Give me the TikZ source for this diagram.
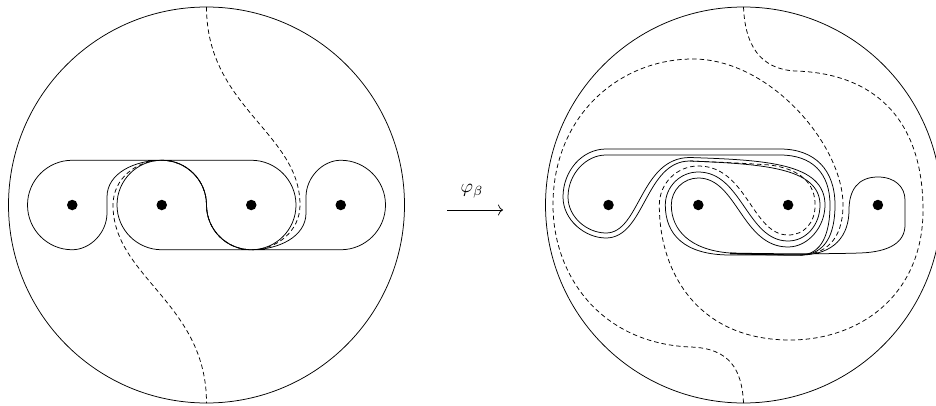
\documentclass[tikz,border=0pt]{standalone}
\usetikzlibrary{arrows.meta}
\begin{document}
\begin{tikzpicture}[x=1pt,y=1pt,line width=0.75pt,
  curve/.style={line width=0.75pt},
  dsh/.style={line width=0.75pt,dash pattern=on 4.5pt off 3pt},
  puncture/.style={circle,fill=black,inner sep=0pt,minimum size=10.5pt}]
\useasboundingbox (0,0) rectangle (936,405);
% ---------------- left disk ----------------
\draw[curve] (206.5,200) circle[radius=198];
\draw[dsh] (206.5,398) .. controls (206.5,298) and (300,272) .. (300,200)
  .. controls (300,174) and (277,155.25) .. (251.25,155.25)
  arc[start angle=270,end angle=180,radius=44.75]
  arc[start angle=0,end angle=90,radius=44.75]
  .. controls (136,244.75) and (113,226) .. (113,200)
  .. controls (113,128) and (206.5,102) .. (206.5,2);
% curve X
\draw[curve] (72.25,244.75) -- (251.25,244.75)
  arc[start angle=90,end angle=-90,radius=44.75]
  arc[start angle=270,end angle=180,radius=44.75]
  arc[start angle=0,end angle=90,radius=44.75]
  .. controls (135,244.75) and (107,232) .. (107,208) -- (107,192)
  .. controls (107,172) and (90,155.25) .. (72.25,155.25)
  arc[start angle=270,end angle=90,radius=44.75] -- cycle;
% curve Y
\draw[curve] (161.75,244.75) arc[start angle=90,end angle=270,radius=44.75]
  -- (340.75,155.25) arc[start angle=-90,end angle=90,radius=44.75]
  .. controls (323,244.75) and (306,228) .. (306,208) -- (306,192)
  .. controls (306,168) and (278,155.25) .. (251.25,155.25)
  arc[start angle=270,end angle=180,radius=44.75]
  arc[start angle=0,end angle=90,radius=44.75];
\node[puncture] (p1) at (72.25,200) {};
\node[puncture] (p2) at (161.75,200) {};
\node[puncture] (p3) at (251.25,200) {};
\node[puncture] (p4) at (340.75,200) {};
% ---------------- arrow ----------------
\coordinate (a1) at (447,195);
\coordinate (a2) at (503,195);
\draw[line width=0.75pt,-{To[length=5pt,width=11pt]}] (a1) -- (a2);
\node[scale=1.9] (lab) at (472,214) {$\varphi_\beta$};
% ---------------- right disk ----------------
\draw[curve] (743.5,200) circle[radius=198];
\draw[dsh] (743.5,398) .. controls (745,360) and (760,336) .. (795,334)
  .. controls (870,332) and (923,290) .. (923,195)
  .. controls (923,110) and (860,65) .. (790,65)
  .. controls (700,65) and (659.3,130) .. (659.3,200)
  arc[start angle=180,end angle=90,radius=39]
  .. controls (747,239) and (752,170) .. (788.1,170)
  .. controls (804,170) and (815.1,182) .. (815.1,200)
  .. controls (815.1,222) and (800,236) .. (770,240)
  .. controls (740,242) and (715,243) .. (690,244);
\draw[dsh] (743.5,2) .. controls (742,35) and (730,57) .. (690,58)
  .. controls (600,62) and (553,130) .. (553,200)
  .. controls (553,290) and (620,346) .. (693,346)
  .. controls (770,346) and (843,260) .. (843,200)
  .. controls (843,165) and (825,150) .. (800,150);
% lane k0
\draw[curve] (780,256) -- (606,256) .. controls (582,256) and (563,234) .. (563,208)
  .. controls (563,185) and (585,167) .. (606,167)
  .. controls (645,167) and (645,244) .. (690,244)
  .. controls (760,241) and (820,238) .. (820,200)
  .. controls (820,180) and (806,164) .. (788.1,164)
  .. controls (747,164) and (742,233) .. (698.3,233)
  arc[start angle=90,end angle=180,radius=33]
  .. controls (665.3,170) and (685,150) .. (730,150) -- (800,150)
  .. controls (825,150) and (835,170) .. (835,200)
  .. controls (835,235) and (815,256) .. (780,256) -- cycle;
% lane k1
\draw[curve] (780,250) -- (606,250) .. controls (586,250) and (568,231) .. (568,208)
  .. controls (568,188) and (587,172) .. (606,172)
  .. controls (640,172) and (640,247.5) .. (690,247.5)
  .. controls (765,245) and (825,242) .. (825,200)
  .. controls (825,178) and (808,158) .. (788.1,158)
  .. controls (742,158) and (737,227) .. (698.3,227)
  arc[start angle=90,end angle=180,radius=27]
  .. controls (671.3,175) and (690,155) .. (730,152)
  .. controls (760,150) and (785,150) .. (800,150)
  .. controls (822,150) and (830,172) .. (830,200)
  .. controls (830,232) and (812,250) .. (780,250) -- cycle;
% P4 lobe
\draw[curve] (730,151) .. controls (760,150.5) and (785,150) .. (800,150)
  .. controls (835,150) and (849,170) .. (849,195)
  .. controls (849,215) and (858,228) .. (877.9,228)
  .. controls (895,228) and (905,218) .. (905,205) -- (905,180)
  .. controls (905,163) and (890,153) .. (860,152)
  .. controls (830,151) and (780,151) .. (730,152);
\node[puncture] (q1) at (608.5,200) {};
\node[puncture] (q2) at (698.3,200) {};
\node[puncture] (q3) at (788.1,200) {};
\node[puncture] (q4) at (877.9,200) {};
\end{tikzpicture}
\end{document}
